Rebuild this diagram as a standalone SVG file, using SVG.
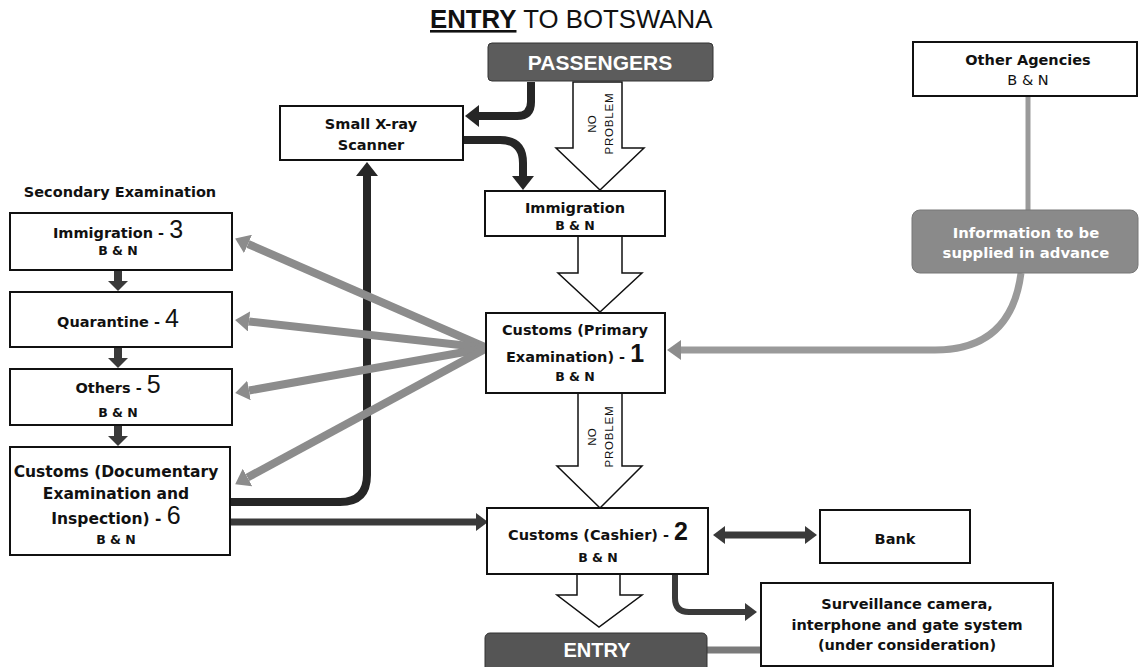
<svg xmlns="http://www.w3.org/2000/svg" width="1140" height="667" viewBox="0 0 1140 667">
<style>
.box{fill:#fff;stroke:#111;stroke-width:2}
.t{font-family:"DejaVu Sans",sans-serif;font-weight:bold;font-size:14.5px;fill:#111;text-anchor:middle}
.s{font-size:12.5px}
.num{font-family:"Liberation Sans",sans-serif;font-size:25px;font-weight:normal}
.numb{font-family:"Liberation Sans",sans-serif;font-size:25px;font-weight:bold}
.hollow{fill:#fff;stroke:#111;stroke-width:1.5}
.np{font-family:"Liberation Sans",sans-serif;font-size:11.5px;fill:#111;text-anchor:middle}
.dark{fill:none;stroke:#262626;stroke-width:8}
.dark2{fill:none;stroke:#3a3a3a;stroke-width:7}
.gray{fill:none;stroke:#8c8c8c;stroke-width:8}
.wt{font-family:"Liberation Sans",sans-serif;font-weight:bold;fill:#fff;text-anchor:middle}
</style>
<defs>
<marker id="hDark" markerUnits="userSpaceOnUse" viewBox="0 0 14 22" refX="0" refY="11" markerWidth="14" markerHeight="22" orient="auto"><path d="M0,0 L14,11 L0,22 z" fill="#262626"/></marker>
<marker id="hDark2" markerUnits="userSpaceOnUse" viewBox="0 0 12 18" refX="0" refY="9" markerWidth="12" markerHeight="18" orient="auto-start-reverse"><path d="M0,0 L12,9 L0,18 z" fill="#3a3a3a"/></marker>
<marker id="hGray" markerUnits="userSpaceOnUse" viewBox="0 0 14 20" refX="0" refY="10" markerWidth="14" markerHeight="20" orient="auto"><path d="M0,0 L14,10 L0,20 z" fill="#8c8c8c"/></marker>
<marker id="hSmall" markerUnits="userSpaceOnUse" viewBox="0 0 10 20" refX="0" refY="10" markerWidth="10" markerHeight="20" orient="auto"><path d="M0,0 L10,10 L0,20 z" fill="#3a3a3a"/></marker>
</defs>

<g id="title">
<text x="430" y="28" style="font-family:'Liberation Sans',sans-serif;font-size:25.8px;fill:#111"><tspan font-weight="bold" text-decoration="underline">ENTRY</tspan> TO BOTSWANA</text>
</g>

<g id="connectors">
<polygon class="hollow" points="573,82 622,82 622,148 644,148 600,190 556,148 573,148"/>
<text class="np" transform="translate(596,124) rotate(-90)">NO</text>
<text class="np" transform="translate(613,124) rotate(-90)" textLength="61">PROBLEM</text>
<polygon class="hollow" points="578,236 622,236 622,273 642,273 600,312 558,273 578,273"/>
<polygon class="hollow" points="578,393 622,393 622,466 642,466 600,508 557,466 578,466"/>
<text class="np" transform="translate(596,437) rotate(-90)">NO</text>
<text class="np" transform="translate(613,437) rotate(-90)" textLength="61">PROBLEM</text>
<polygon class="hollow" points="577,574 620,574 620,595 642,595 599,627 557,595 577,595"/>

<path class="dark" d="M531,82 V102 Q531,116 517,116 H479" marker-end="url(#hDark)"/>
<path class="dark" d="M463,140 H500 Q523,140 523,163 V176" marker-end="url(#hDark)"/>
<path class="dark" d="M230,502 H340 Q367,502 367,475 V176" marker-end="url(#hDark)"/>
<path class="dark2" d="M230,522 H476" marker-end="url(#hDark2)"/>
<path class="dark2" d="M725,535 H805" marker-start="url(#hDark2)" marker-end="url(#hDark2)"/>
<path class="dark2" style="stroke-width:6" d="M675,574 V598 Q675,612 689,612 H745" marker-end="url(#hDark2)"/>

<path class="dark2" style="stroke-width:8" d="M118,270 V281" marker-end="url(#hSmall)"/>
<path class="dark2" style="stroke-width:8" d="M118,347 V358" marker-end="url(#hSmall)"/>
<path class="dark2" style="stroke-width:8" d="M118,425 V436" marker-end="url(#hSmall)"/>

<path class="gray" d="M487,348 L248,244" marker-end="url(#hGray)"/>
<path class="gray" d="M487,348 L249,321.5" marker-end="url(#hGray)"/>
<path class="gray" d="M487,348 L249,390.5" marker-end="url(#hGray)"/>
<path class="gray" d="M487,348 L247.5,477.5" marker-end="url(#hGray)"/>

<path class="gray" style="stroke:#9a9a9a;stroke-width:5" d="M1028,96 V210"/>
<path class="gray" style="stroke:#9a9a9a;stroke-width:7" d="M1021,273 C1015,320 990,350 935,350 H681" marker-end="url(#hGray)"/>

<path class="gray" style="stroke:#7a7a7a;stroke-width:7" d="M707,650 H761"/>
</g>

<g id="passengers">
<rect x="488" y="43" width="225" height="38" rx="4" fill="#5c5c5c" stroke="#333" stroke-width="1"/>
<text class="wt" x="600" y="70" font-size="21">PASSENGERS</text>
</g>

<g id="scanner">
<rect class="box" x="280" y="106" width="183" height="54"/>
<text class="t" x="371" y="129">Small X-ray</text>
<text class="t" x="371" y="150">Scanner</text>
</g>

<g id="immigration">
<rect class="box" x="485" y="191" width="180" height="45"/>
<text class="t" x="575" y="213">Immigration</text>
<text class="t s" x="575" y="230">B &amp; N</text>
</g>

<g id="customs-primary">
<rect class="box" x="486" y="313" width="179" height="80"/>
<text class="t" x="575" y="335">Customs (Primary</text>
<text class="t" x="575" y="362">Examination) - <tspan class="numb">1</tspan></text>
<text class="t s" x="575" y="381">B &amp; N</text>
</g>

<g id="customs-cashier">
<rect class="box" x="487" y="508" width="221" height="66"/>
<text class="t" x="598" y="540">Customs (Cashier) - <tspan class="numb">2</tspan></text>
<text class="t s" x="598" y="562">B &amp; N</text>
</g>

<g id="entry">
<rect x="485" y="633" width="222" height="40" rx="5" fill="#555" stroke="#333" stroke-width="1"/>
<text class="wt" x="597" y="657" font-size="20">ENTRY</text>
</g>

<g id="bank">
<rect class="box" x="820" y="510" width="150" height="53"/>
<text class="t" x="895" y="544">Bank</text>
</g>

<g id="surveillance">
<rect class="box" x="761" y="583" width="292" height="83"/>
<text class="t" x="907" y="609">Surveillance camera,</text>
<text class="t" x="907" y="630">interphone and gate system</text>
<text class="t" x="907" y="650">(under consideration)</text>
</g>

<g id="other-agencies">
<rect class="box" x="913" y="42" width="224" height="54"/>
<text class="t" x="1028" y="65">Other Agencies</text>
<text class="t" x="1028" y="85" style="font-weight:normal">B &amp; N</text>
</g>

<g id="info">
<rect x="912" y="210" width="226" height="63" rx="8" fill="#8a8a8a" stroke="#777" stroke-width="1"/>
<text class="wt" x="1026" y="238" style="font-family:'DejaVu Sans',sans-serif;font-size:14.8px">Information to be</text>
<text class="wt" x="1026" y="258" style="font-family:'DejaVu Sans',sans-serif;font-size:14.8px">supplied in advance</text>
</g>

<g id="secondary-label">
<text class="t" x="120" y="197">Secondary Examination</text>
</g>

<g id="immigration-3">
<rect class="box" x="10" y="213" width="222" height="57"/>
<text class="t" x="118" y="238">Immigration - <tspan class="num">3</tspan></text>
<text class="t s" x="118" y="255">B &amp; N</text>
</g>

<g id="quarantine-4">
<rect class="box" x="10" y="292" width="222" height="55"/>
<text class="t" x="118" y="327">Quarantine - <tspan class="num">4</tspan></text>
</g>

<g id="others-5">
<rect class="box" x="10" y="369" width="222" height="56"/>
<text class="t" x="118" y="393">Others - <tspan class="num">5</tspan></text>
<text class="t s" x="118" y="417">B &amp; N</text>
</g>

<g id="customs-doc-6">
<rect class="box" x="10" y="447" width="220" height="108"/>
<text class="t" x="116" y="477" style="font-size:15.5px">Customs (Documentary</text>
<text class="t" x="116" y="499" style="font-size:15.5px">Examination and</text>
<text class="t" x="116" y="524" style="font-size:15.5px">Inspection) - <tspan class="num">6</tspan></text>
<text class="t s" x="116" y="544">B &amp; N</text>
</g>
</svg>
